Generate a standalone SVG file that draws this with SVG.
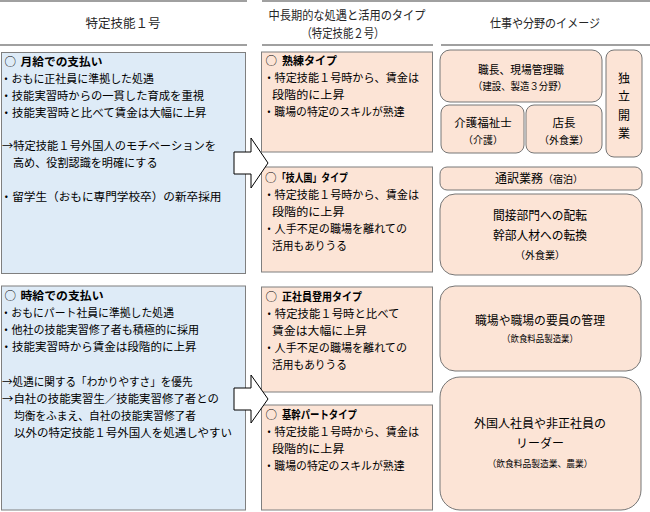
<svg xmlns="http://www.w3.org/2000/svg" width="650" height="512" viewBox="0 0 650 512">
<style>
.t{font-family:"Noto Sans CJK JP","Noto Sans CJK SC",sans-serif;font-size:11.5px;fill:#000}
.b{font-weight:700}
.h{font-family:"Noto Sans CJK JP","Noto Sans CJK SC",sans-serif;font-size:12.5px;fill:#262626;text-anchor:middle}
.r{font-family:"Noto Sans CJK JP","Noto Sans CJK SC",sans-serif;font-size:12px;fill:#000;text-anchor:middle}
.s{font-family:"Noto Sans CJK JP","Noto Sans CJK SC",sans-serif;font-size:10px;fill:#000;text-anchor:middle}
.hl{stroke:#808080;stroke-width:1.6;fill:none}
.bl{fill:#DEEBF7;stroke:#7f7f7f;stroke-width:1}
.pk{fill:#FCE4D6;stroke:#7f7f7f;stroke-width:1}
.rb{fill:#FCE4D6;stroke:#767676;stroke-width:1}
.ar{fill:#fff;stroke:#000;stroke-width:1}
</style>

<g id="header">
<line class="hl" x1="0" y1="1" x2="247" y2="1"/>
<line class="hl" x1="262" y1="1" x2="650" y2="1"/>
<line class="hl" x1="0" y1="45" x2="247" y2="45"/>
<line class="hl" x1="262" y1="45" x2="433" y2="45"/>
<line class="hl" x1="441" y1="45" x2="650" y2="45"/>
<text class="h" x="123" y="28">特定技能１号</text>
<text class="h" x="347" y="19.5" textLength="157" lengthAdjust="spacingAndGlyphs">中長期的な処遇と活用のタイプ</text>
<text class="h" x="343" y="37.5" textLength="83" lengthAdjust="spacingAndGlyphs">（特定技能２号）</text>
<text class="h" x="545" y="28" textLength="110" lengthAdjust="spacingAndGlyphs">仕事や分野のイメージ</text>
</g>

<g id="monthly">
<rect class="bl" x="1.5" y="52.5" width="244" height="221"/>
<text class="t" x="4.5" y="66">○</text>
<text class="t b" x="20.5" y="66" textLength="82" lengthAdjust="spacingAndGlyphs">月給での支払い</text>
<text class="t" x="0.5" y="83" textLength="153.5" lengthAdjust="spacingAndGlyphs">・おもに正社員に準拠した処遇</text>
<text class="t" x="0.5" y="100" textLength="203.5" lengthAdjust="spacingAndGlyphs">・技能実習時からの一貫した育成を重視</text>
<text class="t" x="0.5" y="117" textLength="206" lengthAdjust="spacingAndGlyphs">・技能実習時と比べて賃金は大幅に上昇</text>
<text class="t" x="2" y="150" textLength="214" lengthAdjust="spacingAndGlyphs">→特定技能１号外国人のモチベーションを</text>
<text class="t" x="13" y="167" textLength="144.5" lengthAdjust="spacingAndGlyphs">高め、役割認識を明確にする</text>
<text class="t" x="0.5" y="201" textLength="221" lengthAdjust="spacingAndGlyphs">・留学生（おもに専門学校卒）の新卒採用</text>
</g>

<g id="hourly">
<rect class="bl" x="1.5" y="286" width="244" height="224"/>
<text class="t" x="4.5" y="300">○</text>
<text class="t b" x="20.5" y="300" textLength="83" lengthAdjust="spacingAndGlyphs">時給での支払い</text>
<text class="t" x="0.5" y="317" textLength="173.5" lengthAdjust="spacingAndGlyphs">・おもにパート社員に準拠した処遇</text>
<text class="t" x="0.5" y="334" textLength="198.5" lengthAdjust="spacingAndGlyphs">・他社の技能実習修了者も積極的に採用</text>
<text class="t" x="0.5" y="351" textLength="196" lengthAdjust="spacingAndGlyphs">・技能実習時から賃金は段階的に上昇</text>
<text class="t" x="2" y="386" textLength="190.5" lengthAdjust="spacingAndGlyphs">→処遇に関する「わかりやすさ」を優先</text>
<text class="t" x="2" y="403" textLength="217" lengthAdjust="spacingAndGlyphs">→自社の技能実習生／技能実習修了者との</text>
<text class="t" x="14" y="420" textLength="182" lengthAdjust="spacingAndGlyphs">均衡をふまえ、自社の技能実習修了者</text>
<text class="t" x="14" y="437" textLength="218" lengthAdjust="spacingAndGlyphs">以外の特定技能１号外国人を処遇しやすい</text>
</g>

<g id="skilled">
<rect class="pk" x="261.5" y="52" width="171" height="100"/>
<text class="t" x="265.5" y="65">○</text>
<text class="t b" x="282" y="65" textLength="55" lengthAdjust="spacingAndGlyphs">熟練タイプ</text>
<text class="t" x="263.5" y="82" textLength="155.5" lengthAdjust="spacingAndGlyphs">・特定技能１号時から、賃金は</text>
<text class="t" x="272" y="99" textLength="72.5" lengthAdjust="spacingAndGlyphs">段階的に上昇</text>
<text class="t" x="263.5" y="116" textLength="141" lengthAdjust="spacingAndGlyphs">・職場の特定のスキルが熟達</text>
</g>

<g id="gijinkoku">
<rect class="pk" x="261.5" y="167" width="171" height="105"/>
<text class="t" x="265" y="182">○</text>
<text class="t b" x="277" y="182" textLength="71" lengthAdjust="spacingAndGlyphs">「技人国」タイプ</text>
<text class="t" x="263.5" y="199" textLength="155.5" lengthAdjust="spacingAndGlyphs">・特定技能１号時から、賃金は</text>
<text class="t" x="272" y="216" textLength="72.5" lengthAdjust="spacingAndGlyphs">段階的に上昇</text>
<text class="t" x="263.5" y="233" textLength="143.5" lengthAdjust="spacingAndGlyphs">・人手不足の職場を離れての</text>
<text class="t" x="272" y="250" textLength="75" lengthAdjust="spacingAndGlyphs">活用もありうる</text>
</g>

<g id="regular">
<rect class="pk" x="261.5" y="287" width="171" height="105"/>
<text class="t" x="265.5" y="301">○</text>
<text class="t b" x="282" y="301" textLength="80" lengthAdjust="spacingAndGlyphs">正社員登用タイプ</text>
<text class="t" x="263.5" y="318" textLength="136" lengthAdjust="spacingAndGlyphs">・特定技能１号時と比べて</text>
<text class="t" x="272" y="335" textLength="95" lengthAdjust="spacingAndGlyphs">賃金は大幅に上昇</text>
<text class="t" x="263.5" y="352" textLength="143.5" lengthAdjust="spacingAndGlyphs">・人手不足の職場を離れての</text>
<text class="t" x="272" y="369" textLength="75" lengthAdjust="spacingAndGlyphs">活用もありうる</text>
</g>

<g id="corepart">
<rect class="pk" x="261.5" y="405" width="171" height="105"/>
<text class="t" x="265.5" y="419">○</text>
<text class="t b" x="282" y="419" textLength="75" lengthAdjust="spacingAndGlyphs">基幹パートタイプ</text>
<text class="t" x="263.5" y="436" textLength="155.5" lengthAdjust="spacingAndGlyphs">・特定技能１号時から、賃金は</text>
<text class="t" x="272" y="453" textLength="72.5" lengthAdjust="spacingAndGlyphs">段階的に上昇</text>
<text class="t" x="263.5" y="470" textLength="141" lengthAdjust="spacingAndGlyphs">・職場の特定のスキルが熟達</text>
</g>

<g id="foreman">
<rect class="rb" x="440" y="50" width="162" height="52" rx="10"/>
<text class="r" x="521" y="73.5" style="font-size:11.5px" textLength="86" lengthAdjust="spacingAndGlyphs">職長、現場管理職</text>
<text class="s" x="520" y="90" textLength="94" lengthAdjust="spacingAndGlyphs">（建設、製造３分野）</text>
</g>

<g id="independent">
<rect class="rb" x="606" y="50" width="36" height="107" rx="8"/>
<text class="r" x="624" y="82.5">独</text>
<text class="r" x="624" y="101">立</text>
<text class="r" x="624" y="119.5">開</text>
<text class="r" x="624" y="138">業</text>
</g>

<g id="carework">
<rect class="rb" x="441" y="105" width="83" height="48" rx="8"/>
<text class="r" x="483" y="126.5" style="font-size:11.5px">介護福祉士</text>
<text class="s" x="483" y="144">（介護）</text>
</g>

<g id="storemanager">
<rect class="rb" x="526" y="105" width="76" height="48" rx="8"/>
<text class="r" x="564" y="126.5" style="font-size:11.5px">店長</text>
<text class="s" x="564" y="144">（外食業）</text>
</g>

<g id="interpreter">
<rect class="rb" x="440" y="167" width="202" height="23" rx="7"/>
<text class="r" x="539" y="182.5">通訳業務<tspan style="font-size:10px">（宿泊）</tspan></text>
</g>

<g id="transfer">
<rect class="rb" x="440" y="194" width="202" height="81" rx="15"/>
<text class="r" x="540" y="219.5" style="font-size:12.5px" textLength="94" lengthAdjust="spacingAndGlyphs">間接部門への配転</text>
<text class="r" x="540" y="239.5" style="font-size:12.5px" textLength="94" lengthAdjust="spacingAndGlyphs">幹部人材への転換</text>
<text class="s" x="540" y="259">（外食業）</text>
</g>

<g id="management">
<rect class="rb" x="440" y="286" width="201" height="85" rx="15"/>
<text class="r" x="540" y="324.5" textLength="130" lengthAdjust="spacingAndGlyphs">職場や職場の要員の管理</text>
<text class="s" x="540" y="341.5" style="font-size:9.5px" textLength="76" lengthAdjust="spacingAndGlyphs">（飲食料品製造業）</text>
</g>

<g id="leader">
<rect class="rb" x="440" y="377" width="201" height="133" rx="20"/>
<text class="r" x="540" y="427.5" textLength="132" lengthAdjust="spacingAndGlyphs">外国人社員や非正社員の</text>
<text class="r" x="540" y="447.5">リーダー</text>
<text class="s" x="540" y="466.5" style="font-size:9.5px" textLength="105" lengthAdjust="spacingAndGlyphs">（飲食料品製造業、農業）</text>
</g>

<g id="connectors">
<polygon class="ar" points="234,152 251,152 251,138 268,163 251,188 251,174 234,174"/>
<polygon class="ar" points="234,388 251,388 251,375 268,399 251,423 251,410 234,410"/>
</g>
</svg>
